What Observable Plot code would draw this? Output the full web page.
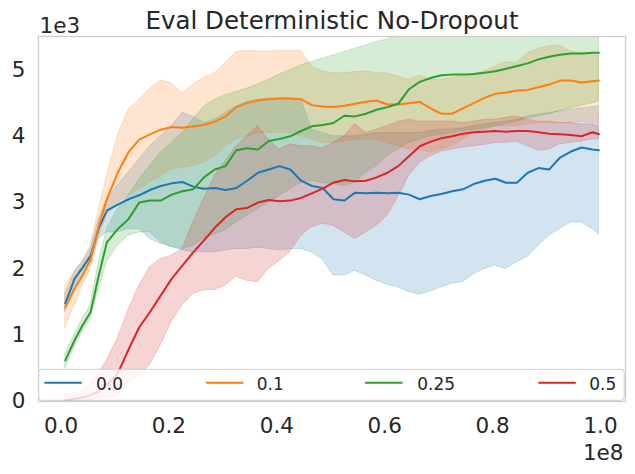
<!DOCTYPE html>
<html>
<head>
<meta charset="utf-8">
<script src="https://cdn.jsdelivr.net/npm/d3@7"></script>
<script src="https://cdn.jsdelivr.net/npm/@observablehq/plot@0.6"></script>
<style>
  html, body { margin: 0; padding: 0; background: #fff; }
</style>
</head>
<body>
<div id="chart"></div>
<script>
// x values in units of 1e8 steps, y values in units of 1e3
const steps = [0.008, 0.025, 0.04, 0.055, 0.07, 0.085, 0.105, 0.125, 0.145, 0.165, 0.185, 0.205, 0.225, 0.245, 0.265, 0.285, 0.305, 0.325, 0.345, 0.365, 0.385, 0.405, 0.425, 0.445, 0.465, 0.485, 0.505, 0.525, 0.545, 0.565, 0.585, 0.605, 0.625, 0.645, 0.665, 0.685, 0.705, 0.725, 0.745, 0.765, 0.785, 0.805, 0.825, 0.845, 0.865, 0.885, 0.905, 0.925, 0.945, 0.965, 0.985, 0.997];

const seriesNames = ["0.0", "0.1", "0.25", "0.5"];
const seriesColors = ["#1f77b4", "#ff7f0e", "#2ca02c", "#d62728"];

const mean00 = [1.48, 1.85, 2.02, 2.2, 2.61, 2.88, 2.97, 3.05, 3.11, 3.19, 3.25, 3.29, 3.31, 3.24, 3.21, 3.22, 3.19, 3.22, 3.33, 3.45, 3.5, 3.55, 3.50, 3.33, 3.25, 3.22, 3.05, 3.03, 3.15, 3.14, 3.15, 3.14, 3.15, 3.12, 3.05, 3.1, 3.13, 3.17, 3.2, 3.28, 3.33, 3.36, 3.30, 3.30, 3.45, 3.52, 3.5, 3.68, 3.77, 3.83, 3.80, 3.79];
const upper00 = [1.62, 1.95, 2.12, 2.3, 2.75, 3.05, 3.25, 3.45, 3.65, 3.85, 4.0, 4.15, 4.35, 4.3, 4.2, 4.25, 4.35, 4.45, 4.52, 4.55, 4.57, 4.57, 4.57, 4.55, 4.1, 4.05, 4.0, 4.0, 4.0, 4.02, 4.05, 4.05, 4.05, 4.05, 4.05, 4.08, 4.1, 4.1, 4.12, 4.15, 4.18, 4.2, 4.22, 4.25, 4.3, 4.33, 4.35, 4.38, 4.4, 4.42, 4.44, 4.45];
const lower00 = [1.35, 1.72, 1.9, 2.08, 2.45, 2.55, 2.55, 2.6, 2.6, 2.45, 2.38, 2.33, 2.28, 2.25, 2.25, 2.25, 2.28, 2.3, 2.3, 2.32, 2.3, 2.28, 2.3, 2.3, 2.25, 2.14, 1.9, 1.9, 1.97, 1.9, 1.82, 1.76, 1.72, 1.65, 1.61, 1.66, 1.72, 1.78, 1.8, 1.92, 2.0, 2.05, 2.0, 2.1, 2.18, 2.35, 2.5, 2.6, 2.7, 2.7, 2.6, 2.52];

const mean01 = [1.42, 1.7, 1.9, 2.15, 2.65, 3.05, 3.45, 3.76, 3.95, 4.03, 4.1, 4.14, 4.13, 4.15, 4.17, 4.22, 4.3, 4.44, 4.5, 4.54, 4.56, 4.57, 4.57, 4.56, 4.47, 4.45, 4.44, 4.46, 4.49, 4.52, 4.54, 4.48, 4.48, 4.5, 4.52, 4.42, 4.34, 4.34, 4.42, 4.5, 4.58, 4.64, 4.66, 4.69, 4.7, 4.74, 4.78, 4.84, 4.84, 4.81, 4.83, 4.84];
const upper01 = [1.75, 1.95, 2.1, 2.35, 2.9, 3.4, 4.0, 4.4, 4.55, 4.72, 4.84, 4.8, 4.65, 4.78, 4.88, 4.95, 5.1, 5.27, 5.29, 5.28, 5.28, 5.29, 5.29, 5.29, 5.05, 4.98, 4.95, 4.95, 4.97, 4.98, 4.95, 4.95, 4.9, 4.85, 4.92, 4.85, 4.85, 4.88, 4.9, 4.92, 4.98, 5.05, 5.12, 5.1, 5.25, 5.32, 5.36, 5.36, 5.28, 5.25, 5.22, 5.22];
const lower01 = [1.1, 1.45, 1.75, 2.0, 2.45, 2.8, 3.0, 3.1, 3.2, 3.3, 3.4, 3.5, 3.52, 3.55, 3.6, 3.7, 3.85, 3.95, 4.0, 4.05, 4.05, 4.05, 4.05, 4.0, 3.95, 3.9, 3.9, 3.92, 3.95, 3.95, 3.95, 3.9, 3.85, 3.8, 3.8, 3.75, 3.8, 3.85, 3.95, 4.05, 4.1, 4.15, 4.15, 4.15, 4.18, 4.2, 4.2, 4.2, 4.2, 4.22, 4.2, 4.2];

const mean025 = [0.62, 0.92, 1.15, 1.35, 1.9, 2.4, 2.6, 2.75, 3.0, 3.03, 3.03, 3.12, 3.17, 3.2, 3.38, 3.5, 3.55, 3.79, 3.82, 3.8, 3.93, 3.96, 4.0, 4.08, 4.15, 4.17, 4.2, 4.31, 4.3, 4.34, 4.4, 4.44, 4.49, 4.71, 4.82, 4.88, 4.92, 4.93, 4.93, 4.94, 4.96, 4.98, 5.02, 5.06, 5.1, 5.16, 5.2, 5.23, 5.25, 5.25, 5.26, 5.26];
const upper025 = [0.72, 1.0, 1.25, 1.45, 2.1, 2.6, 2.9, 3.1, 3.35, 3.55, 3.75, 3.9, 4.05, 4.25, 4.45, 4.55, 4.62, 4.67, 4.72, 4.78, 4.85, 4.93, 5.0, 5.07, 5.12, 5.17, 5.22, 5.27, 5.32, 5.37, 5.42, 5.46, 5.52, 5.58, 5.62, 5.65, 5.68, 5.7, 5.72, 5.74, 5.76, 5.78, 5.8, 5.82, 5.84, 5.85, 5.86, 5.87, 5.88, 5.88, 5.88, 5.85];
const lower025 = [0.5, 0.82, 1.05, 1.25, 1.7, 2.1, 2.35, 2.5, 2.55, 2.55, 2.4, 2.33, 2.3, 2.35, 2.45, 2.52, 2.58, 2.7, 2.8, 2.9, 3.0, 3.1, 3.2, 3.3, 3.33, 3.3, 3.28, 3.25, 3.3, 3.45, 3.55, 3.7, 3.8, 3.9, 3.95, 4.0, 4.02, 4.05, 4.08, 4.1, 4.12, 4.15, 4.18, 4.22, 4.27, 4.3, 4.33, 4.38, 4.42, 4.46, 4.5, 4.52];

const mean05 = [0.02, 0.04, 0.06, 0.1, 0.15, 0.25, 0.42, 0.78, 1.12, 1.35, 1.6, 1.85, 2.05, 2.25, 2.43, 2.62, 2.78, 2.9, 2.92, 3.0, 3.04, 3.02, 3.03, 3.07, 3.14, 3.21, 3.3, 3.34, 3.32, 3.33, 3.38, 3.45, 3.55, 3.7, 3.85, 3.92, 3.97, 4.0, 4.04, 4.06, 4.07, 4.08, 4.07, 4.08, 4.08, 4.06, 4.04, 4.03, 4.02, 4.0, 4.06, 4.03];
const upper05 = [0.1, 0.12, 0.16, 0.25, 0.42, 0.62, 0.95, 1.38, 1.75, 2.03, 2.15, 2.2, 2.3, 2.7, 3.05, 3.4, 3.62, 3.85, 4.0, 4.15, 3.95, 3.8, 3.88, 3.85, 3.85, 3.82, 3.9, 4.0, 4.18, 4.05, 4.1, 4.15, 4.22, 4.25, 4.22, 4.22, 4.22, 4.22, 4.2, 4.22, 4.25, 4.25, 4.28, 4.3, 4.25, 4.22, 4.22, 4.2, 4.2, 4.18, 4.18, 4.15];
const lower05 = [-0.05, -0.03, 0.0, 0.02, 0.04, 0.05, 0.08, 0.25, 0.4, 0.55, 0.85, 1.2, 1.45, 1.62, 1.68, 1.68, 1.75, 1.88, 1.82, 1.8, 2.0, 2.12, 2.25, 2.5, 2.63, 2.68, 2.65, 2.55, 2.45, 2.55, 2.65, 2.8, 3.08, 3.4, 3.6, 3.7, 3.77, 3.8, 3.83, 3.85, 3.87, 3.9, 3.9, 3.92, 3.85, 3.78, 3.8, 3.88, 3.9, 3.92, 3.95, 3.95];

const xTicks = [0, 0.2, 0.4, 0.6, 0.8, 1.0];
const yTicks = [0, 1, 2, 3, 4, 5];
const titleText = "Eval Deterministic No-Dropout";

const seriesData = [
  [mean00, lower00, upper00],
  [mean01, lower01, upper01],
  [mean025, lower025, upper025],
  [mean05, lower05, upper05]
];
const rows = [];
seriesNames.forEach((name, i) => {
  const [m, lo, hi] = seriesData[i];
  steps.forEach((x, j) => rows.push({series: name, x, mean: m[j], lo: lo[j], hi: hi[j]}));
});

const textColor = "#262626";
const chart = Plot.plot({
  width: 635,
  height: 474,
  marginLeft: 38,
  marginRight: 10,
  marginTop: 36,
  marginBottom: 73,
  style: {fontFamily: "DejaVu Sans", fontSize: "21.5px", color: textColor, background: "#fff"},
  x: {domain: [-0.0417, 1.0463], ticks: xTicks, tickFormat: d3.format(".1f"), tickSize: 0, tickPadding: 16, label: null},
  y: {domain: [0, 5.505], ticks: yTicks, tickFormat: d3.format("d"), tickSize: 0, tickPadding: 13, label: null},
  color: {domain: seriesNames, range: seriesColors},
  marks: [
    Plot.areaY(rows, {x: "x", y1: "lo", y2: "hi", z: "series", fill: "series", fillOpacity: 0.2, stroke: "series", strokeOpacity: 0.2, strokeWidth: 1, clip: true}),
    Plot.lineY(rows, {x: "x", y: "mean", z: "series", stroke: "series", strokeWidth: 2, clip: true}),
    Plot.frame({stroke: "#cccccc", strokeWidth: 1.25}),
    Plot.text([titleText], {frameAnchor: "top", lineAnchor: "middle", dy: -15.5, fontSize: 24.5, fill: textColor}),
    Plot.text(["1e3"], {frameAnchor: "top-left", lineAnchor: "middle", dx: 1, dy: -10, textAnchor: "start", fontSize: 21.5, fill: textColor}),
    Plot.text(["1e8"], {frameAnchor: "bottom-right", lineAnchor: "middle", dx: -2, dy: 51.5, textAnchor: "end", fontSize: 21.5, fill: textColor})
  ]
});

// legend (matplotlib style, 4 columns, lower center inside the axes)
const svg = d3.select(chart);
const lg = svg.append("g").attr("font-family", "DejaVu Sans").attr("font-size", 17).attr("text-anchor", "start");
lg.append("rect")
  .attr("x", 38.7).attr("y", 369.3).attr("width", 585.5).attr("height", 31)
  .attr("rx", 3).attr("fill", "#fff").attr("fill-opacity", 0.8)
  .attr("stroke", "#cccccc").attr("stroke-width", 1);
const lineStarts = [44.3, 206, 365, 538.3];
const textStarts = [96, 256.7, 417.3, 589.3];
seriesNames.forEach((name, i) => {
  lg.append("line")
    .attr("x1", lineStarts[i]).attr("x2", lineStarts[i] + 37.5)
    .attr("y1", 382.7).attr("y2", 382.7)
    .attr("stroke", seriesColors[i]).attr("stroke-width", 2);
  lg.append("text")
    .attr("x", textStarts[i]).attr("y", 383.7).attr("dy", "0.35em")
    .attr("text-anchor", "start")
    .attr("fill", textColor).text(name);
});

document.getElementById("chart").appendChild(chart);
</script>
</body>
</html>
